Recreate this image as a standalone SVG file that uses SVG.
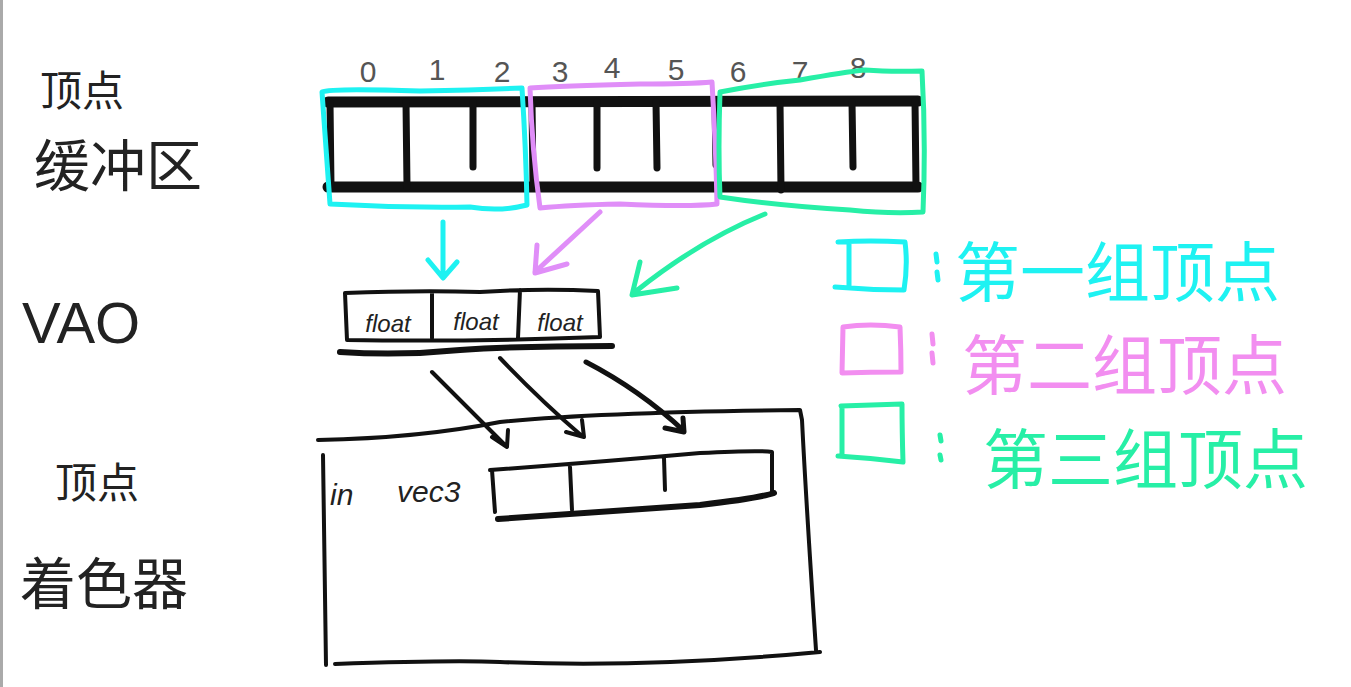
<svg xmlns="http://www.w3.org/2000/svg" width="1351" height="687" viewBox="0 0 1351 687">
<defs>
<style>
.ink{fill:none;stroke:#111;stroke-linecap:round;stroke-linejoin:round}
.cy{stroke:#1ef2f2}
.pu{stroke:#e08ef8}
.gr{stroke:#27efa6}
.lbl{font-family:"Noto Sans CJK SC","Liberation Sans",sans-serif;fill:#222}
.num{font-family:"Liberation Sans",sans-serif;fill:#555;font-size:30px;text-anchor:middle}
.hand{fill:none;stroke-width:5;stroke-linecap:round;stroke-linejoin:round}
.fl{font-family:"Liberation Sans",sans-serif;font-style:italic;font-size:24px;text-anchor:middle;fill:#222}
.leg{font-family:"Noto Sans CJK SC",sans-serif;font-size:65px}
</style>
</defs>
<rect width="1351" height="687" fill="#fff"/>
<rect x="0" y="0" width="3" height="687" fill="#aaa"/>

<g id="label-buffer">
<text class="lbl" x="40" y="106" font-size="42">顶点</text>
<text class="lbl" x="34" y="186" font-size="56">缓冲区</text>
</g>
<g id="label-vao">
<text x="22" y="343" font-family="Liberation Sans,sans-serif" font-size="58" fill="#222">VAO</text>
</g>
<g id="label-shader">
<text class="lbl" x="55" y="498" font-size="42">顶点</text>
<text class="lbl" x="20" y="604" font-size="56">着色器</text>
</g>

<g id="indices">
<text class="num" x="368" y="82">0</text>
<text class="num" x="437" y="80">1</text>
<text class="num" x="502" y="82">2</text>
<text class="num" x="560" y="82">3</text>
<text class="num" x="612" y="78">4</text>
<text class="num" x="676" y="80">5</text>
<text class="num" x="738" y="82">6</text>
<text class="num" x="800" y="82">7</text>
<text class="num" x="858" y="78">8</text>
</g>

<g id="buffer">
<path class="ink" stroke-width="11" d="M328 102 L918 101"/>
<path class="ink" stroke-width="11" d="M328 187 L918 187"/>
<path class="ink" stroke-width="7" d="M330 102 L331 187 M406 102 L407 187 M473 102 L473 167 M532 102 L533 187 M597 102 L597 168 M656 102 L657 168 M715 102 L716 165 M780 102 L781 190 M852 102 L853 167 M915 101 L916 187"/>
</g>

<g id="group1">
<path class="hand cy" d="M322 92 Q330 88 420 91 Q480 90 522 88 Q526 150 527 205 Q500 212 470 207 Q400 208 330 204 Q326 150 322 92 Z"/>
</g>
<g id="group2">
<path class="hand pu" d="M530 88 Q560 86 640 84 Q690 84 712 82 Q716 150 717 204 Q690 207 620 204 Q570 205 540 208 Q532 150 530 88 Z"/>
</g>
<g id="group3">
<path class="hand gr" d="M720 92 Q760 84 800 80 Q845 72 865 70 Q890 72 922 71 Q926 140 923 212 Q890 214 850 210 Q780 206 720 197 Q718 150 720 92 Z"/>
</g>

<g id="vao">
<path class="ink" stroke-width="4" d="M345 293 Q420 290 480 292 Q540 288 598 291 L600 337 Q470 342 347 340 Z M432 292 L432 338 M520 290 L518 338"/>
<path class="ink" stroke-width="6" d="M340 352 Q400 356 460 350 Q520 346 612 346"/>
<text class="fl" x="388" y="332">float</text>
<text class="fl" x="476" y="330">float</text>
<text class="fl" x="560" y="331">float</text>
</g>

<g id="shader">
<path class="ink" stroke-width="4" d="M318 440 Q420 438 500 422 Q600 412 800 410 L802 420 Q806 500 816 650 M323 455 L326 665 M335 664 Q450 660 500 662 Q650 668 820 652"/>
<text x="330" y="505" font-family="Liberation Sans,sans-serif" font-style="italic" font-size="30" fill="#222">in</text>
<text x="397" y="502" font-family="Liberation Sans,sans-serif" font-style="italic" font-size="30" fill="#222">vec3</text>
<path class="ink" stroke-width="4" d="M490 470 Q600 462 700 453 Q760 450 772 452 L772 492 M570 467 L572 510 M664 458 L665 490 M492 470 L495 512"/>
<path class="ink" stroke-width="6" d="M498 519 Q600 512 700 505 Q760 498 774 493"/>
</g>

<g id="legend">
<path class="hand cy" d="M838 242 Q870 240 905 242 Q908 265 904 290 Q870 290 835 287 M849 242 L849 288"/>
<path class="hand" stroke="#f28ef0" d="M843 327 Q870 323 900 327 Q901 350 901 372 Q870 372 842 373 Z"/>
<path class="hand gr" d="M841 406 Q870 405 902 404 Q902 430 903 462 Q870 458 838 456 M842 406 L842 455"/>
<path class="hand cy" d="M936 254 L937 262 M937 272 L938 280"/>
<path class="hand" stroke="#f28ef0" d="M932 334 L933 344 M932 353 L933 363"/>
<path class="hand gr" d="M940 435 L941 441 M940 455 L941 460"/>
<text class="leg" x="955" y="296" fill="#1ef2f2">第一组顶点</text>
<text class="leg" x="962" y="389" fill="#f28ef0">第二组顶点</text>
<text class="leg" x="983" y="483" fill="#27efa6">第三组顶点</text>
</g>

<g id="connectors">
<path class="hand cy" d="M443 222 L443 277 M428 260 L443 278 L457 262"/>
<path class="hand pu" d="M600 212 L535 272 M537 245 L535 273 L567 264"/>
<path class="hand gr" d="M765 214 Q700 240 635 292 M640 262 L632 295 L677 288"/>
<path class="ink" stroke-width="4" d="M432 372 L505 445 M492 437 L507 447 L508 430"/>
<path class="ink" stroke-width="4" d="M500 358 Q540 400 582 436 M566 432 L584 437 L582 420"/>
<path class="ink" stroke-width="5" d="M586 362 Q640 390 684 431 M665 428 L684 432 L683 418"/>
</g>
</svg>
